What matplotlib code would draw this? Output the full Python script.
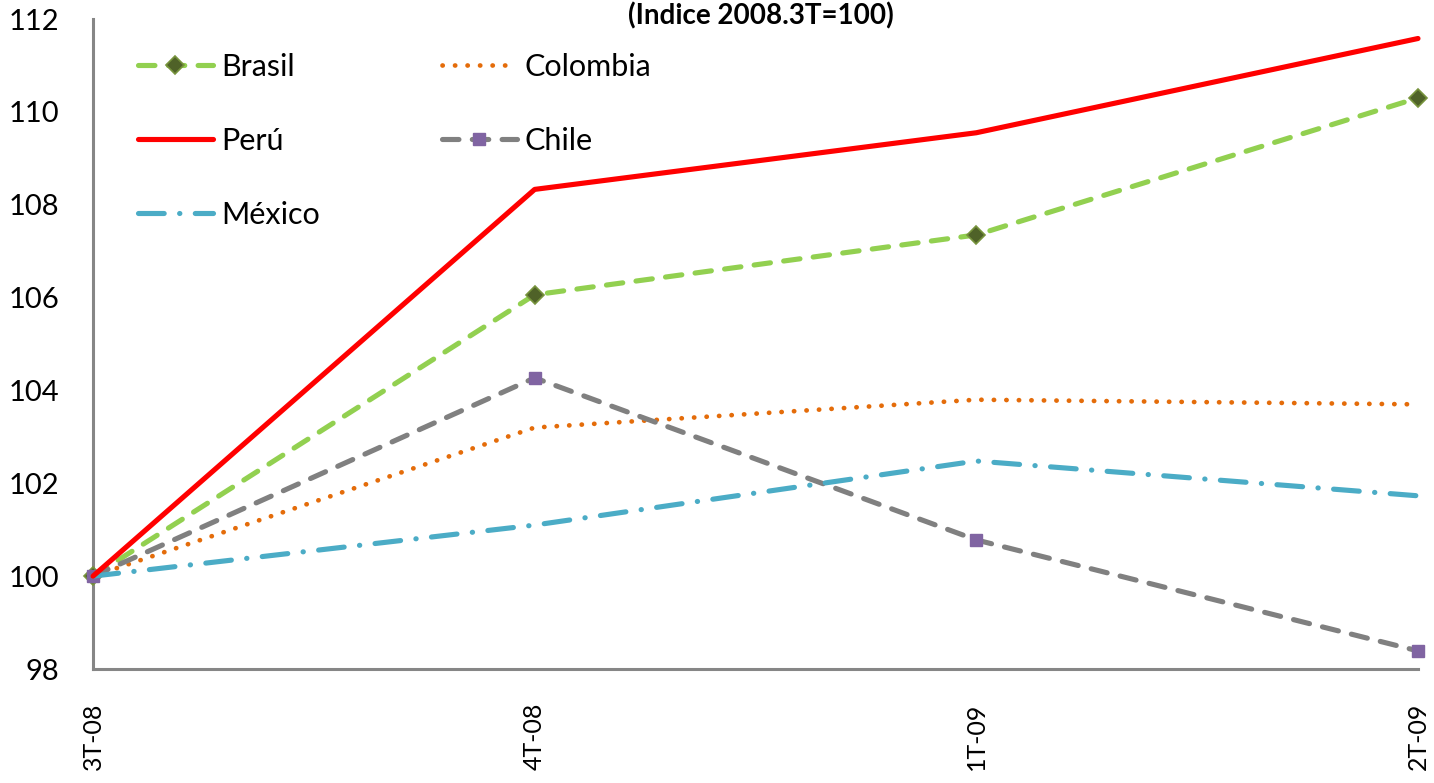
import matplotlib
matplotlib.use("Agg")
import matplotlib.pyplot as plt

categories = ["3T-08", "4T-08", "1T-09", "2T-09"]
brasil = [100.0, 106.06, 107.35, 110.30]
colombia = [100.0, 103.20, 103.80, 103.70]
peru = [100.0, 108.33, 109.55, 111.58]
chile = [100.0, 104.27, 100.78, 98.39]
mexico = [100.0, 101.10, 102.48, 101.73]
yticks = [98, 100, 102, 104, 106, 108, 110, 112]
title = "(Indice 2008.3T=100)"

plt.rcParams['font.family'] = ['Lato', 'DejaVu Sans']

fig = plt.figure(figsize=(14.34, 7.83), dpi=100)
ax = fig.add_axes([93/1434, 1-669/783, (1418-93)/1434, (669-19)/783])

x = list(range(len(categories)))
lw = 3.7

l_br, = ax.plot(x, brasil, color='#92D050', lw=lw, linestyle=(0, (3.2, 2.6)),
                dash_capstyle='round', marker='D', markersize=9.5,
                markerfacecolor='#4F6228', markeredgecolor='#77933C', markeredgewidth=1.2,
                label='Brasil', zorder=3)
l_co, = ax.plot(x, colombia, color='#E46C0A', lw=3.4, linestyle=(0, (0.05, 2.6)),
                dash_capstyle='round', label='Colombia', zorder=3)
l_pe, = ax.plot(x, peru, color='#FF0000', lw=lw, solid_capstyle='round',
                label='Perú', zorder=4)
l_ch, = ax.plot(x, chile, color='#808080', lw=lw, linestyle=(0, (3.2, 2.6)),
                dash_capstyle='round', marker='s', markersize=9,
                markerfacecolor='#8064A2', markeredgecolor='#8064A2',
                label='Chile', zorder=3)
l_mx, = ax.plot(x, mexico, color='#4BACC6', lw=lw, linestyle=(0, (5.0, 3.0, 0.05, 3.0)),
                dash_capstyle='round', label='México', zorder=3)

ax.set_xlim(0, 3)
ax.set_ylim(98, 112)
ax.set_yticks(yticks)
ax.set_yticklabels([str(v) for v in yticks], fontsize=21)
ax.set_xticks(x)
ax.set_xticklabels(categories, rotation=90, fontsize=18, va='top', ha='center')
ax.tick_params(axis='both', length=0)
ax.tick_params(axis='x', pad=24)
ax.tick_params(axis='y', pad=24)

for s in ['top', 'right']:
    ax.spines[s].set_visible(False)
for s in ['left', 'bottom']:
    ax.spines[s].set_color('#868686')
    ax.spines[s].set_linewidth(2.2)

for ln in ax.get_lines():
    ln.set_clip_on(False)

leg = ax.legend(handles=[l_br, l_pe, l_mx, l_co, l_ch], ncol=2, frameon=False,
                loc='upper left', bbox_to_anchor=(45/1325, 1-34/650),
                fontsize=22, handlelength=2.45, handletextpad=0.26,
                labelspacing=1.5, columnspacing=4.0, borderaxespad=0, borderpad=0)

fig.text(761/1434, 1-16/783, title, ha='center', va='center', fontsize=20,
         fontweight='bold')

fig.savefig('out.png', dpi=100)
